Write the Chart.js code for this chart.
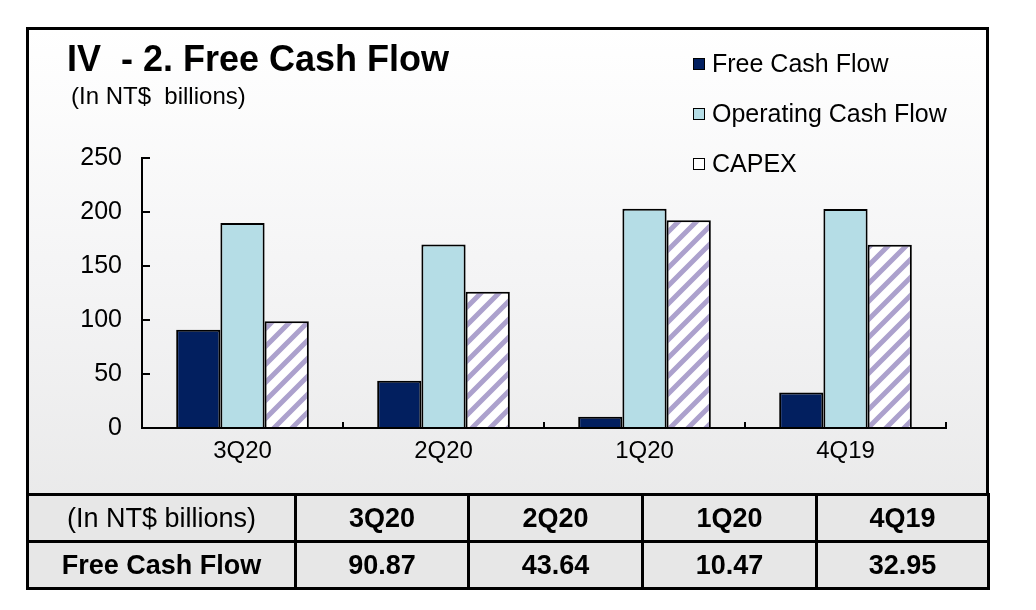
<!DOCTYPE html>
<html>
<head>
<meta charset="utf-8">
<script src="https://cdn.jsdelivr.net/npm/chart.js@4.4.1/dist/chart.umd.min.js"></script>
<style>
  html, body { margin:0; padding:0; background:#fff; }
  body { width:1036px; height:610px; position:relative; overflow:hidden;
         font-family:'Liberation Sans', Arial, Helvetica, sans-serif; color:#000; }
  #frame { position:absolute; left:26px; top:27px; width:963px; height:563px; box-sizing:border-box;
           border:3px solid #000;
           background:linear-gradient(to bottom, #ffffff 0%, #f4f4f5 45%, #e6e6e6 100%); }
  #chart { position:absolute; left:0; top:0; z-index:2; }
  #title { position:absolute; left:67px; top:41px; font-size:36px; font-weight:bold; line-height:36px; white-space:pre; z-index:3; }
  #subtitle { position:absolute; left:71px; top:84px; font-size:24px; line-height:24px; white-space:pre; z-index:3; }
  #legend { position:absolute; left:693px; top:51px; z-index:3; }
  .lrow { display:flex; align-items:center; height:25px; margin-bottom:25px; font-size:25px; line-height:25px; white-space:pre; }
  .sw { width:10px; height:10px; border:1.5px solid #000; margin-right:7px; flex:none; }
  #tbl { position:absolute; left:26px; top:493px; z-index:3; border-collapse:collapse; table-layout:fixed; }
  #tbl td { border:3px solid #000; background:#e7e7e7; text-align:center; padding:0; font-size:27px; font-weight:bold; white-space:pre; }
  #tbl tr { height:47px; }
  #tbl td.lbl { font-weight:normal; font-size:27px; }
</style>
</head>
<body>
<div id="frame"></div>
<div id="title">IV  - 2. Free Cash Flow</div>
<div id="subtitle">(In NT$  billions)</div>
<div id="legend"></div>
<canvas id="chart" width="1036" height="494"></canvas>
<table id="tbl">
  <colgroup>
    <col style="width:268px"><col style="width:173px"><col style="width:174px"><col style="width:174px"><col style="width:172px">
  </colgroup>
  <tbody>
    <tr id="hdrRow"></tr>
    <tr id="valRow"></tr>
  </tbody>
</table>
<script>
// ---- data ----
const categories = ['3Q20', '2Q20', '1Q20', '4Q19'];
const seriesNames = ['Free Cash Flow', 'Operating Cash Flow', 'CAPEX'];
const freeCashFlow = [90.87, 43.64, 10.47, 32.95];
const operatingCashFlow = [189.78, 169.87, 202.90, 202.69];
const capex = [98.91, 126.23, 192.43, 169.74];
const yTicks = [0, 50, 100, 150, 200, 250];
const tableUnitLabel = '(In NT$ billions)';
const tableRowLabel = 'Free Cash Flow';

const FONT = "'Liberation Sans', Arial, Helvetica, sans-serif";

function stripePattern() {
  const s = 18;
  const c = document.createElement('canvas');
  c.width = s; c.height = s;
  const g = c.getContext('2d');
  g.fillStyle = '#ffffff';
  g.fillRect(0, 0, s, s);
  g.strokeStyle = '#aca1cd';
  g.lineWidth = 5;
  g.beginPath();
  g.moveTo(-2, s + 2); g.lineTo(s + 2, -2);
  g.moveTo(-s / 2 - 2, s / 2 + 2); g.lineTo(s / 2 + 2, -s / 2 - 2);
  g.moveTo(s / 2 - 2, s * 1.5 + 2); g.lineTo(s * 1.5 + 2, s / 2 - 2);
  g.stroke();
  return g.createPattern(c, 'repeat');
}

const colors = ['#021f5f', '#b5dde6', stripePattern()];
const swatchColors = ['#021f5f', '#b5dde6', '#ffffff'];

const chart = new Chart(document.getElementById('chart'), {
  type: 'bar',
  data: {
    labels: categories,
    datasets: [
      { label: seriesNames[0], data: freeCashFlow, backgroundColor: colors[0] },
      { label: seriesNames[1], data: operatingCashFlow, backgroundColor: colors[1] },
      { label: seriesNames[2], data: capex, backgroundColor: colors[2] }
    ]
  },
  options: {
    responsive: false,
    animation: false,
    devicePixelRatio: 1,
    layout: { padding: { top: 158, right: 90, bottom: 0, left: 0 } },
    datasets: {
      bar: { categoryPercentage: 0.66, barPercentage: 1.0, borderColor: '#000', borderWidth: 2, borderSkipped: 'start' }
    },
    plugins: { legend: { display: false }, tooltip: { enabled: false }, title: { display: false } },
    scales: {
      x: {
        grid: { drawOnChartArea: false, tickLength: -6, color: '#000', lineWidth: 2, offset: true },
        border: { color: '#000', width: 2 },
        ticks: { padding: 15, color: '#000', font: { family: FONT, size: 24 } },
        afterFit(s) { s.height = 494 - 428; }
      },
      y: {
        min: 0, max: 250,
        afterBuildTicks(s) { s.ticks = yTicks.map(v => ({ value: v })); },
        grid: { drawOnChartArea: false, tickLength: -8, color: '#000', lineWidth: 2 },
        border: { color: '#000', width: 2 },
        ticks: { padding: 28, color: '#000', font: { family: FONT, size: 25 } },
        afterFit(s) { s.width = 142; }
      }
    }
  }
});

// HTML legend from the chart's datasets
const legend = document.getElementById('legend');
chart.data.datasets.forEach((ds, i) => {
  const row = document.createElement('div');
  row.className = 'lrow';
  const sw = document.createElement('div');
  sw.className = 'sw';
  sw.style.background = swatchColors[i];
  row.appendChild(sw);
  row.appendChild(document.createTextNode(ds.label));
  legend.appendChild(row);
});

// table
const hdr = document.getElementById('hdrRow');
const val = document.getElementById('valRow');
function td(text, cls) { const c = document.createElement('td'); c.textContent = text; if (cls) c.className = cls; return c; }
hdr.appendChild(td(tableUnitLabel, 'lbl'));
categories.forEach(c => hdr.appendChild(td(c)));
val.appendChild(td(tableRowLabel));
freeCashFlow.forEach(v => val.appendChild(td(v.toFixed(2))));
</script>
</body>
</html>
